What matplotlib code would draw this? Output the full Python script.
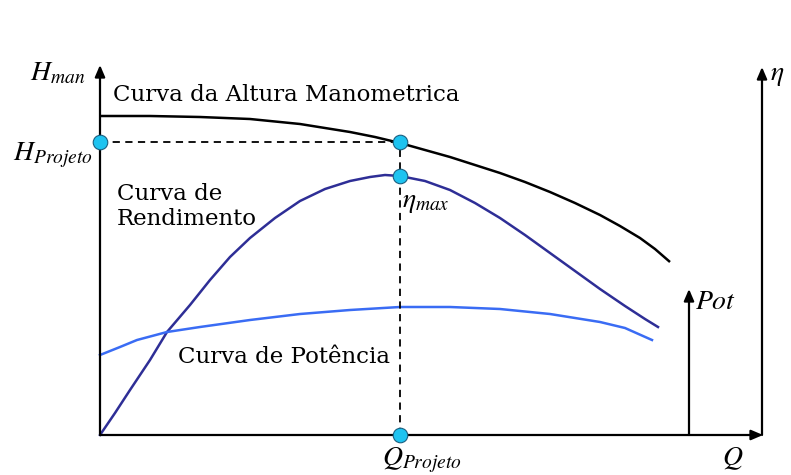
import matplotlib
matplotlib.use("Agg")
import matplotlib.pyplot as plt
import numpy as np

plt.rcParams["mathtext.fontset"] = "stix"
plt.rcParams["font.family"] = ["DejaVu Serif"]

# ---- data (Q measured from the origin, H/eta/Pot upward from the Q axis)
q_head = [0, 50, 100, 150, 200, 250, 275, 300, 325, 350, 375, 400, 425, 450,
          475, 500, 520, 540, 555, 570]
h_head = [319, 319, 318, 316, 311, 303, 298, 292, 285, 278, 270, 262, 253, 243,
          232, 220, 209, 197, 186, 173]

q_eff = [0, 15, 30, 50, 67, 90, 110, 130, 150, 175, 200, 225, 250, 270, 285,
         300, 325, 350, 375, 400, 425, 450, 475, 500, 525, 545, 558]
h_eff = [0, 22, 45, 75, 103, 130, 155, 178, 197, 217, 234, 246, 254, 258, 260,
         259, 254, 245, 232, 217, 200, 182, 164, 146, 129, 116, 108]

q_pot = [0, 20, 37, 67, 100, 150, 200, 250, 300, 350, 400, 450, 500, 525, 552]
h_pot = [80, 88, 95, 103, 108, 115, 121, 125, 128, 128, 126, 121, 113, 107, 95]

q_proj = 300
h_proj = 293
eta_max = 259
q_end = 663      # end of Q axis
h_top = 370      # tip of H axis
eta_top = 368    # tip of eta axis
q_eta = 662      # position of eta axis
q_pot_ax = 589   # position of Pot arrow
pot_top = 146

CYAN = "#1EC3F0"
DARK = "#2E2E96"
LIGHT = "#3A6CF4"

fig = plt.figure(figsize=(7.91, 4.75), dpi=100)
ax = fig.add_axes([0, 0, 1, 1])
ax.set_xlim(-100, 691)
ax.set_ylim(-40, 435)
ax.axis("off")

arrow_kw = dict(arrowstyle="-|>,head_length=0.7,head_width=0.3", color="black", lw=1.6,
                shrinkA=0, shrinkB=0)
# axes
ax.annotate("", xy=(0, h_top), xytext=(0, 0), arrowprops=arrow_kw)
ax.annotate("", xy=(q_end, 0), xytext=(0, 0), arrowprops=arrow_kw)
ax.annotate("", xy=(q_eta, eta_top), xytext=(q_eta, 0), arrowprops=arrow_kw)
ax.annotate("", xy=(q_pot_ax, pot_top), xytext=(q_pot_ax, 0), arrowprops=arrow_kw)

# curves
ax.plot(q_head, h_head, color="black", lw=1.8, solid_capstyle="butt", solid_joinstyle="round")
ax.plot(q_eff, h_eff, color=DARK, lw=1.8, solid_joinstyle="round")
ax.plot(q_pot, h_pot, color=LIGHT, lw=1.8, solid_joinstyle="round")

# design point guides
ax.plot([0, q_proj], [h_proj, h_proj], color="black", lw=1.3, ls=(0, (4, 3)))
ax.plot([q_proj, q_proj], [0, h_proj], color="black", lw=1.3, ls=(0, (4, 3)))

ax.scatter([0, q_proj, q_proj, q_proj], [h_proj, h_proj, eta_max, 0], s=110,
           color=CYAN, edgecolor="#1A5F80", linewidth=0.8, zorder=5)

# labels
ax.text(13, 334, "Curva da Altura Manometrica", fontsize=16.5, ha="left", va="baseline")
ax.text(17, 235, "Curva de", fontsize=16.5, ha="left", va="baseline")
ax.text(17, 210, "Rendimento", fontsize=16.5, ha="left", va="baseline")
ax.text(78, 72, "Curva de Potência", fontsize=16.5, ha="left", va="baseline")

ax.text(-70, 355, r"$H_{man}$", fontsize=20, ha="left", va="baseline")
ax.text(-87, 275, r"$H_{Projeto}$", fontsize=20, ha="left", va="baseline")
ax.text(302, 228, r"$\eta_{max}$", fontsize=20, ha="left", va="baseline")
ax.text(595, 126, r"$Pot$", fontsize=20, ha="left", va="baseline")
ax.text(670, 355, r"$\eta$", fontsize=20, ha="left", va="baseline")
ax.text(282, -30, r"$Q_{Projeto}$", fontsize=20, ha="left", va="baseline")
ax.text(622, -30, r"$Q$", fontsize=20, ha="left", va="baseline")

fig.savefig("out.png", dpi=100)
